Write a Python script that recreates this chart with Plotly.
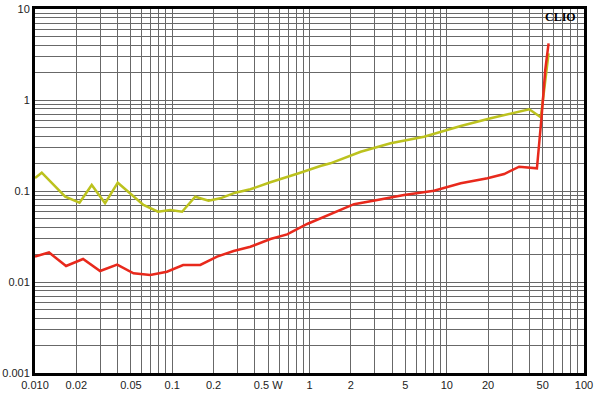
import plotly.graph_objects as go

# Power (W) vs distortion (%) - yellow series
yellow_x = [0.010, 0.0112, 0.0166, 0.0211, 0.0259, 0.0324, 0.0401, 0.0617, 0.0787, 0.0967,
            0.118, 0.147, 0.184, 0.224, 0.288, 0.371, 0.519, 0.649, 0.835, 1.20,
            1.42, 2.36, 3.90, 6.83, 12.65, 20.9, 39.9, 48.5, 55.2]
yellow_y = [0.139, 0.159, 0.0865, 0.0744, 0.1164, 0.0733, 0.1234, 0.0702, 0.0592, 0.0618,
            0.0592, 0.0865, 0.0782, 0.0831, 0.0958, 0.1044, 0.1247, 0.138, 0.1566, 0.188,
            0.2015, 0.270, 0.334, 0.395, 0.518, 0.629, 0.79, 0.646, 3.26]

# red series
red_x = [0.010, 0.01265, 0.01684, 0.0224, 0.0298, 0.0397, 0.0522, 0.0691, 0.0915, 0.120,
         0.160, 0.212, 0.280, 0.371, 0.519, 0.687, 0.962, 1.42, 2.11, 3.12,
         4.88, 8.08, 12.65, 19.8, 26.2, 33.7, 45.4, 49.1, 52.2, 55.2]
red_y = [0.0190, 0.0211, 0.0150, 0.0179, 0.0132, 0.0155, 0.01247, 0.01194, 0.01298, 0.01538,
         0.01538, 0.0190, 0.0219, 0.0244, 0.0297, 0.0334, 0.0434, 0.0554, 0.0716, 0.0796,
         0.0904, 0.1007, 0.1216, 0.138, 0.1537, 0.185, 0.1776, 0.655, 2.14, 4.2]

x_labels = {0.01: "0.010", 0.02: "0.02", 0.05: "0.05", 0.1: "0.1", 0.2: "0.2", 0.5: "0.5 W",
            1: "1", 2: "2", 5: "5", 10: "10", 20: "20", 50: "50", 100: "100"}
y_labels = {0.001: "0.001", 0.01: "0.01", 0.1: "0.1", 1: "1", 10: "10"}


def log_ticks(lo_exp, hi_exp, labels):
    vals, texts = [], []
    for e in range(lo_exp, hi_exp + 1):
        for m in range(1, 10):
            v = round(m * 10 ** e, 6)
            if e == hi_exp and m > 1:
                break
            vals.append(v)
            lab = ""
            for k, t in labels.items():
                if abs(k - v) < 1e-9 * max(1, v):
                    lab = t
            texts.append(lab)
    return vals, texts


xv, xt = log_ticks(-2, 2, x_labels)
yv, yt = log_ticks(-3, 1, y_labels)

fig = go.Figure()
fig.add_trace(go.Scatter(x=yellow_x, y=yellow_y, mode="lines",
                         line=dict(color="#bcc21e", width=2.5), showlegend=False))
fig.add_trace(go.Scatter(x=red_x, y=red_y, mode="lines",
                         line=dict(color="#e8291c", width=2.5), showlegend=False))

axis_common = dict(showline=True, linecolor="black", linewidth=3, mirror=True,
                   showgrid=True, gridcolor="#686868", gridwidth=1, zeroline=False,
                   automargin=False, ticks="",
                   tickfont=dict(family="Liberation Sans, Arial", size=11, color="#222"))

fig.update_xaxes(type="log", range=[-2, 2], tickmode="array", tickvals=xv, ticktext=xt,
                 **axis_common)
fig.update_yaxes(type="log", range=[-3, 1], tickmode="array", tickvals=yv, ticktext=yt,
                 **axis_common)

fig.add_annotation(text="<b>CLIO</b>", xref="paper", yref="paper", x=0.957, y=0.978,
                   xanchor="center", yanchor="middle", showarrow=False,
                   font=dict(family="Liberation Serif, DejaVu Serif", size=12, color="black"))

fig.update_layout(width=600, height=393, margin=dict(l=35, r=16, t=9, b=20),
                  plot_bgcolor="white", paper_bgcolor="white")

fig.write_html("out.html")
